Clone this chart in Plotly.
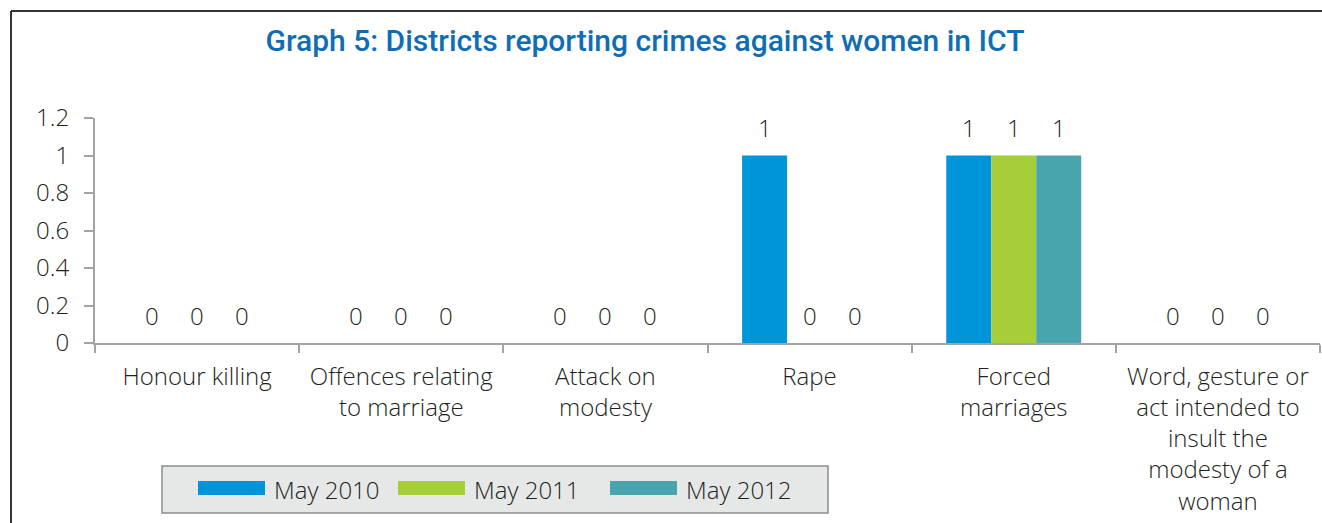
import plotly.graph_objects as go

# Crime categories (x axis) and counts per survey period
categories = [
    "Honour killing",
    "Offences relating<br>to marriage",
    "Attack on<br>modesty",
    "Rape",
    "Forced<br>marriages",
    "Word, gesture or<br>act intended to<br>insult the<br>modesty of a<br>woman",
]
series_names = ["May 2010", "May 2011", "May 2012"]
may_2010 = [0, 0, 0, 1, 1, 0]
may_2011 = [0, 0, 0, 0, 1, 0]
may_2012 = [0, 0, 0, 0, 1, 0]
y_ticks = [0, 0.2, 0.4, 0.6, 0.8, 1, 1.2]

colors = ["#0094d9", "#a6ce39", "#48a5ae"]
series_values = [may_2010, may_2011, may_2012]

W, H = 1322, 523
L, R, T, B = 95, 2, 118, 180
PW = W - L - R
PH = H - T - B
FONT = "Open Sans"
WT = 300
FS = 24
TXT = "#231f20"


def px_x(p):
    return (p - L) / PW


def px_y(p):
    return (H - B - p) / PH


fig = go.Figure()
for name, vals, col in zip(series_names, series_values, colors):
    fig.add_trace(go.Bar(x=categories, y=vals, name=name, marker_color=col,
                         marker_line_width=0, showlegend=False))

# value labels above each bar
n = len(series_names)
bar_px = PW / len(categories) * (1 - 0.339) / n
annotations = []
for i, vals in enumerate(series_values):
    off = (i - (n - 1) / 2) * bar_px
    for c, v in zip(categories, vals):
        annotations.append(dict(x=c, y=v, xref="x", yref="y", text=f"{v:g}",
                                showarrow=False, xshift=off, yshift=28,
                                yanchor="middle",
                                font=dict(family=FONT, size=FS, color=TXT, weight=WT)))

# frame and legend box drawn as shapes + text
shapes = [
    dict(type="line", xref="paper", yref="paper", x0=px_x(11), x1=px_x(1330),
         y0=px_y(11), y1=px_y(11), line=dict(color="#333333", width=2)),
    dict(type="line", xref="paper", yref="paper", x0=px_x(11), x1=px_x(11),
         y0=px_y(11), y1=px_y(530), line=dict(color="#333333", width=2)),
    dict(type="rect", xref="paper", yref="paper", x0=px_x(162), x1=px_x(828),
         y0=px_y(466), y1=px_y(513), fillcolor="#e6e8e8",
         line=dict(color="#8c8c8c", width=1.5)),
]
swatch_x = [198, 398, 610]
for sx, name, col in zip(swatch_x, series_names, colors):
    shapes.append(dict(type="rect", xref="paper", yref="paper",
                       x0=px_x(sx), x1=px_x(sx + 67), y0=px_y(481), y1=px_y(495),
                       fillcolor=col, line=dict(width=0)))
    annotations.append(dict(x=px_x(sx + 74), y=px_y(489), xref="paper", yref="paper",
                            text=name, showarrow=False, xanchor="left", yanchor="middle",
                            font=dict(family=FONT, size=FS, color=TXT, weight=WT)))

fig.update_layout(
    width=W, height=H,
    margin=dict(l=L, r=R, t=T, b=B),
    paper_bgcolor="white", plot_bgcolor="white",
    barmode="group", bargap=0.339, bargroupgap=0,
    showlegend=False,
    title=dict(text="Graph 5: Districts reporting crimes against women in ICT",
               x=645 / W, y=1 - 40 / H, xanchor="center", yanchor="middle",
               font=dict(family="Roboto", size=30, color="#0f6db4", weight=500)),
    font=dict(family=FONT, size=FS, color=TXT, weight=WT),
    xaxis=dict(showline=True, linecolor="#a3a3a3", linewidth=2,
               ticks="outside", tickson="boundaries", ticklen=8,
               tickcolor="#a3a3a3", tickwidth=1.5, showgrid=False,
               ticklabelstandoff=11,
               tickfont=dict(family=FONT, size=FS, color=TXT, weight=WT)),
    yaxis=dict(range=[0, 1.2], tickvals=y_ticks, showline=True,
               linecolor="#a3a3a3", linewidth=2, ticks="outside", ticklen=9,
               tickcolor="#a3a3a3", tickwidth=1.5, showgrid=False, zeroline=False,
               ticklabelstandoff=10,
               tickfont=dict(family=FONT, size=FS, color=TXT, weight=WT)),
    shapes=shapes,
    annotations=annotations,
)

fig.write_html("out.html")
